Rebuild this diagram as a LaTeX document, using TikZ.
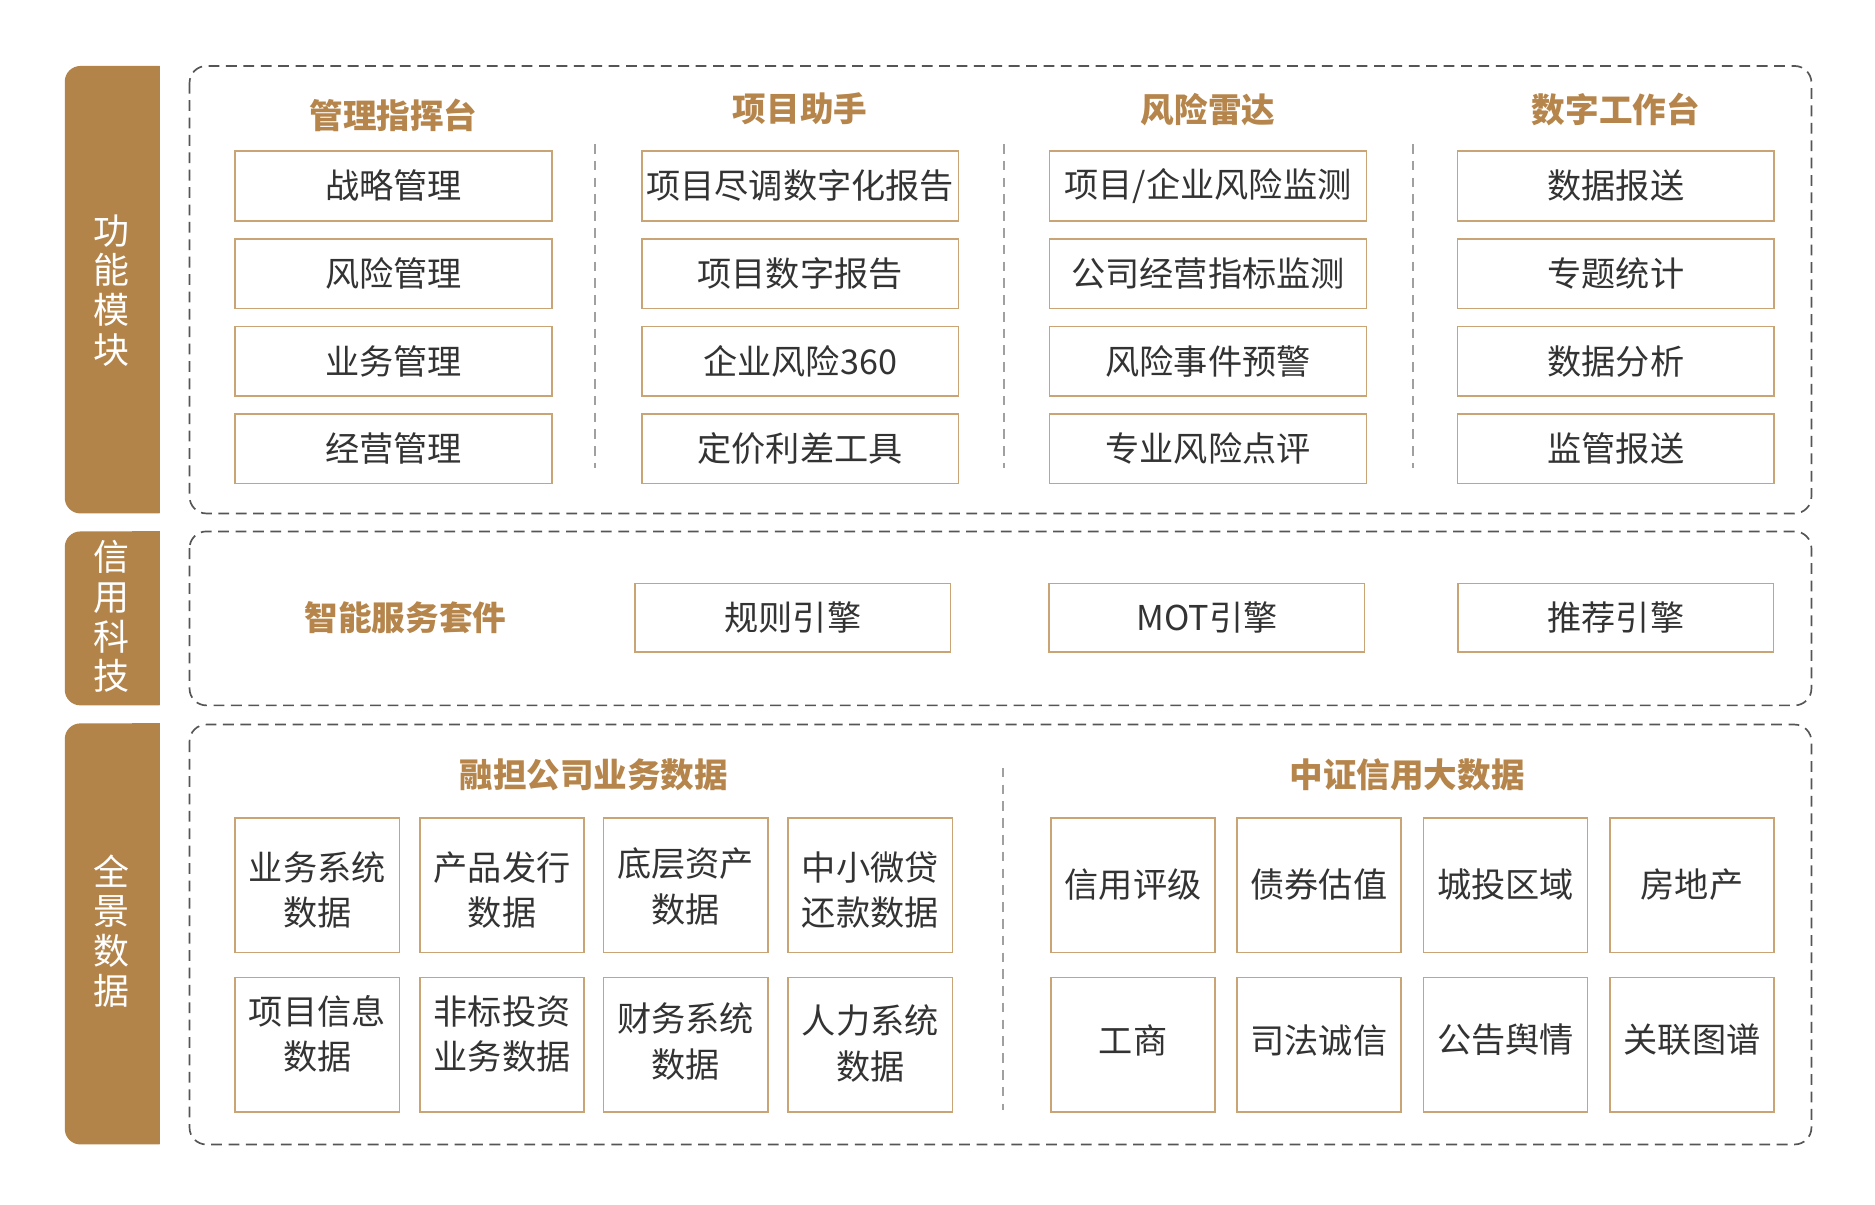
\documentclass[tikz,border=0pt]{standalone}
\usepackage{fontspec}
\setmainfont{Noto Sans CJK SC}
\usetikzlibrary{positioning}
\definecolor{tan}{HTML}{B3844A}
\definecolor{tanhead}{HTML}{B5854B}
\definecolor{tanline}{HTML}{C9A474}
\definecolor{txt}{HTML}{333333}
\definecolor{dashgray}{HTML}{555555}
\definecolor{sepgray}{HTML}{A0A0A0}
\begin{document}
\begin{tikzpicture}[x=1pt,y=-1pt,
  bar/.style={fill=tan,draw=none},
  bartext/.style={text=white,font=\fontsize{30}{33}\selectfont,align=center,text width=40pt},
  group/.style={draw=dashgray,line width=1.4pt,dash pattern=on 9pt off 5.5pt,rounded corners=14pt},
  sep/.style={draw=sepgray,line width=1.2pt,dash pattern=on 8pt off 6pt},
  head/.style={text=tanhead,font=\fontsize{28}{32}\selectfont\bfseries},
  item/.style={draw=tanline,line width=1.3pt,fill=white,minimum width=264pt,minimum height=58pt,inner sep=0pt,text=txt,font=\fontsize{28.5}{32}\selectfont},
  sitem/.style={draw=tanline,line width=1.3pt,fill=white,minimum width=137pt,minimum height=112pt,inner sep=0pt},
  stext/.style={text=txt,font=\fontsize{28.5}{38}\selectfont,align=center,inner sep=0pt},
]
\useasboundingbox (0,0) rectangle (1563,1004);
\fill[white] (0,0) rectangle (1563,1004);
% side bars
\fill[bar,rounded corners=13pt] (133,55) -- (54,55) -- (54,428) -- (133,428);
\fill[bar] (110,55) rectangle (133,428);
\fill[bar,rounded corners=13pt] (133,443) -- (54,443) -- (54,588) -- (133,588);
\fill[bar] (110,443) rectangle (133,588);
\fill[bar,rounded corners=13pt] (133,603) -- (54,603) -- (54,954) -- (133,954);
\fill[bar] (110,603) rectangle (133,954);
\node[bartext] (b1) at (93,242) {功\\能\\模\\块};
\node[bartext] (b2) at (93,514) {信\\用\\科\\技};
\node[bartext] (b3) at (93,776) {全\\景\\数\\据};
% dashed groups
\draw[group] (158,55) rectangle (1510,428);
\draw[group] (158,443) rectangle (1510,588);
\draw[group] (158,604) rectangle (1510,954);
% section 1
\node[head] (h1) at (328,96) {管理指挥台};
\node[head] (h2) at (667,91) {项目助手};
\node[head] (h3) at (1007,91) {风险雷达};
\node[head] (h4) at (1347,91) {数字工作台};
\draw[sep] (496,120) -- (496,390);
\draw[sep] (837,120) -- (837,390);
\draw[sep] (1178,120) -- (1178,390);
\node[item] (a1) at (328,155) {战略管理};
\node[item] (a2) at (328,228) {风险管理};
\node[item] (a3) at (328,301) {业务管理};
\node[item] (a4) at (328,374) {经营管理};
\node[item] (p1) at (667,155) {项目尽调数字化报告};
\node[item] (p2) at (667,228) {项目数字报告};
\node[item] (p3) at (667,301) {企业风险360};
\node[item] (p4) at (667,374) {定价利差工具};
\node[item] (r1) at (1007,155) {项目/企业风险监测};
\node[item] (r2) at (1007,228) {公司经营指标监测};
\node[item] (r3) at (1007,301) {风险事件预警};
\node[item] (r4) at (1007,374) {专业风险点评};
\node[item] (d1) at (1347,155) {数据报送};
\node[item] (d2) at (1347,228) {专题统计};
\node[item] (d3) at (1347,301) {数据分析};
\node[item] (d4) at (1347,374) {监管报送};
% section 2
\node[head] (h5) at (338,515) {智能服务套件};
\node[item,minimum width=263pt,minimum height=57pt] (e1) at (661,515) {规则引擎};
\node[item,minimum width=263pt,minimum height=57pt] (e2) at (1006,515) {MOT引擎};
\node[item,minimum width=263pt,minimum height=57pt] (e3) at (1347,515) {推荐引擎};
% section 3
\node[head] (h6) at (495,646) {融担公司业务数据};
\node[head] (h7) at (1173,646) {中证信用大数据};
\draw[sep] (836,640) -- (836,925);
\node[sitem] (s1) at (264.5,738) {};
\node[sitem] (s2) at (418.5,738) {};
\node[sitem] (s3) at (571.5,738) {};
\node[sitem] (s4) at (725.5,738) {};
\node[sitem] (s5) at (264.5,871) {};
\node[sitem] (s6) at (418.5,871) {};
\node[sitem] (s7) at (571.5,871) {};
\node[sitem] (s8) at (725.5,871) {};
\node[stext] (t1) at (264.5,742) {业务系统\\数据};
\node[stext] (t2) at (418.5,742) {产品发行\\数据};
\node[stext] (t3) at (571.5,739) {底层资产\\数据};
\node[stext] (t4) at (725.5,742) {中小微贷\\还款数据};
\node[stext] (t5) at (264.5,862) {项目信息\\数据};
\node[stext] (t6) at (418.5,862) {非标投资\\业务数据};
\node[stext] (t7) at (571.5,868) {财务系统\\数据};
\node[stext] (t8) at (725.5,870) {人力系统\\数据};
\node[sitem] (c1) at (944.5,738) {};
\node[sitem] (c2) at (1099.5,738) {};
\node[sitem] (c3) at (1255,738) {};
\node[sitem] (c4) at (1410.5,738) {};
\node[sitem] (c5) at (944.5,871) {};
\node[sitem] (c6) at (1099.5,871) {};
\node[sitem] (c7) at (1255,871) {};
\node[sitem] (c8) at (1410.5,871) {};
\node[stext] (u1) at (944.5,737) {信用评级};
\node[stext] (u2) at (1099.5,737) {债券估值};
\node[stext] (u3) at (1255,737) {城投区域};
\node[stext] (u4) at (1410.5,737) {房地产};
\node[stext] (u5) at (944.5,867) {工商};
\node[stext] (u6) at (1099.5,867) {司法诚信};
\node[stext] (u7) at (1255,867) {公告舆情};
\node[stext] (u8) at (1410.5,867) {关联图谱};
\end{tikzpicture}
\end{document}
